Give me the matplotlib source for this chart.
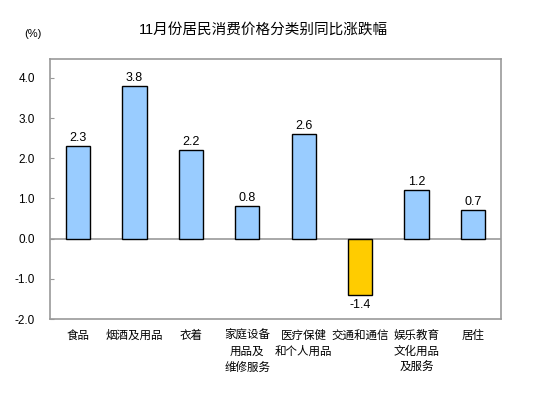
import matplotlib
matplotlib.use("Agg")
import matplotlib.pyplot as plt
import numpy as np

categories = ["食品", "烟酒及用品", "衣着", "家庭设备\n用品及\n维修服务", "医疗保健\n和个人用品",
              "交通和通信", "娱乐教育\n文化用品\n及服务", "居住"]
values = [2.3, 3.8, 2.2, 0.8, 2.6, -1.4, 1.2, 0.7]
yticks = [-2.0, -1.0, 0.0, 1.0, 2.0, 3.0, 4.0]
title = "11月份居民消费价格分类别同比涨跌幅"

plt.rcParams['font.family'] = ['Liberation Sans', 'Noto Sans CJK SC', 'DejaVu Sans']

fig = plt.figure(figsize=(5.53, 3.98), dpi=100)
W, H = 553, 398
ax = fig.add_axes([50 / W, 1 - 319 / H, 451 / W, 260 / H])

x = np.arange(len(categories))
colors = ['#99CCFF' if v >= 0 else '#FFCC00' for v in values]
ax.bar(x, values, width=0.43, color=colors, edgecolor='black', linewidth=1.0, zorder=3)
ax.set_xlim(-0.5, len(categories) - 0.5)
ax.set_ylim(-2.0, 4.47)
ax.axhline(0, color='#999999', linewidth=1.2, zorder=2)

for xi, v in zip(x, values):
    if v >= 0:
        ax.text(xi, v + 0.06, f"{v:.1f}", ha='center', va='bottom', fontsize=9)
    else:
        ax.text(xi, v - 0.1, f"{v:.1f}", ha='center', va='top', fontsize=9)

ax.set_yticks(yticks)
ax.set_yticklabels([f"{t:.1f}" for t in yticks], fontsize=8.5)
ax.set_xticks([])
for s in ax.spines.values():
    s.set_color('#999999')
    s.set_linewidth(1.2)
ax.tick_params(axis='y', direction='in', length=3, color='#999999', pad=11)

for xi, c in zip(x, categories):
    ax.text(xi, -2.0 - 0.27, c, ha='center', va='top', fontsize=8.3, linespacing=1.45,
            transform=ax.transData)

fig.text(263 / W, 1 - 30 / H, title, ha='center', va='center', fontsize=10.5)
fig.text(33 / W, 1 - 34 / H, "(%)", ha='center', va='center', fontsize=8)

fig.savefig("out.png", dpi=100)
